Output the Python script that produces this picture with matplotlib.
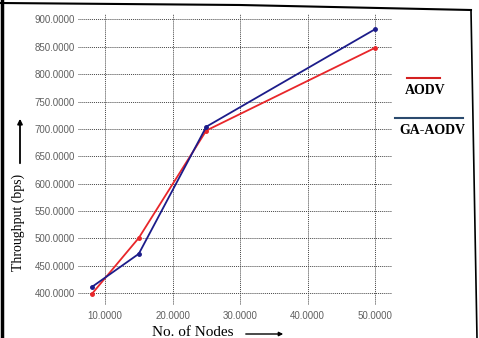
import matplotlib.pyplot as plt
from matplotlib.lines import Line2D

# datos
nodos = [8, 15, 25, 50]
aodv = [398, 501, 697, 848]
ga_aodv = [411, 472, 704, 882]
ticks_x = [10, 20, 30, 40, 50]
ticks_y = [400, 450, 500, 550, 600, 650, 700, 750, 800, 850, 900]

fig = plt.figure(figsize=(4.79, 3.38), dpi=100)
ax = fig.add_axes([78 / 479, 1 - 305 / 338, (392 - 78) / 479, (305 - 14) / 338])

ax.plot(nodos, aodv, color='#e8262a', lw=1.3, marker='o', ms=2.5)
ax.plot(nodos, ga_aodv, color='#1c1c8a', lw=1.3, marker='o', ms=2.5)

ax.set_xlim(6.0, 52.5)
ax.set_ylim(378.6, 909.7)
ax.set_xticks(ticks_x)
ax.set_yticks(ticks_y)
ax.set_xticklabels([f'{v:.4f}' for v in ticks_x])
ax.set_yticklabels([f'{v:.4f}' for v in ticks_y])
ax.tick_params(length=0, labelsize=7, colors='#606060', pad=2)
for t in ax.get_xticklabels() + ax.get_yticklabels():
    t.set_family('Liberation Sans')
ax.tick_params(axis='x', pad=4)
ax.grid(True, color='#444444', linestyle=(0, (1, 1)), lw=0.7)
for s in ax.spines.values():
    s.set_visible(False)

# etiquetas de ejes con flechas
fig.text(18 / 479, 1 - 222 / 338, 'Throughput (bps)', rotation=90, ha='center', va='center',
         family='Liberation Serif', fontsize=10)
fig.text(193 / 479, 1 - 332 / 338, 'No. of Nodes', ha='center', va='center',
         family='Liberation Serif', fontsize=11)
fig.add_artist(plt.Annotation('', xy=(20 / 479, 1 - 116 / 338), xytext=(20 / 479, 1 - 166 / 338),
                              xycoords='figure fraction',
                              arrowprops=dict(arrowstyle='-|>', color='black', lw=1.3, mutation_scale=7)))
fig.add_artist(plt.Annotation('', xy=(286 / 479, 1 - 334 / 338), xytext=(243 / 479, 1 - 334 / 338),
                              xycoords='figure fraction',
                              arrowprops=dict(arrowstyle='-|>', color='black', lw=1.0, mutation_scale=6)))

# leyenda manual
fig.add_artist(Line2D([407 / 479, 440 / 479], [1 - 78 / 338, 1 - 78 / 338], color='#d42020', lw=1.5))
fig.text(425 / 479, 1 - 91 / 338, 'AODV', ha='center', va='center',
         family='Liberation Serif', fontsize=10, fontweight='bold')
fig.add_artist(Line2D([395 / 479, 463 / 479], [1 - 118 / 338, 1 - 118 / 338], color='#2b4a6e', lw=1.5))
fig.text(432 / 479, 1 - 131 / 338, 'GA-AODV', ha='center', va='center',
         family='Liberation Serif', fontsize=10, fontweight='bold')

# marco de la imagen
fig.add_artist(Line2D([1.5 / 479, 1.5 / 479], [0, 1], color='black', lw=2.5))
fig.add_artist(Line2D([0, 240 / 479, 471 / 479], [1 - 3 / 338, 1 - 5 / 338, 1 - 10 / 338], color='black', lw=1.5))
fig.add_artist(Line2D([471 / 479, 477 / 479], [1 - 10 / 338, 0], color='black', lw=1.2))

plt.savefig('out.png', dpi=100)
